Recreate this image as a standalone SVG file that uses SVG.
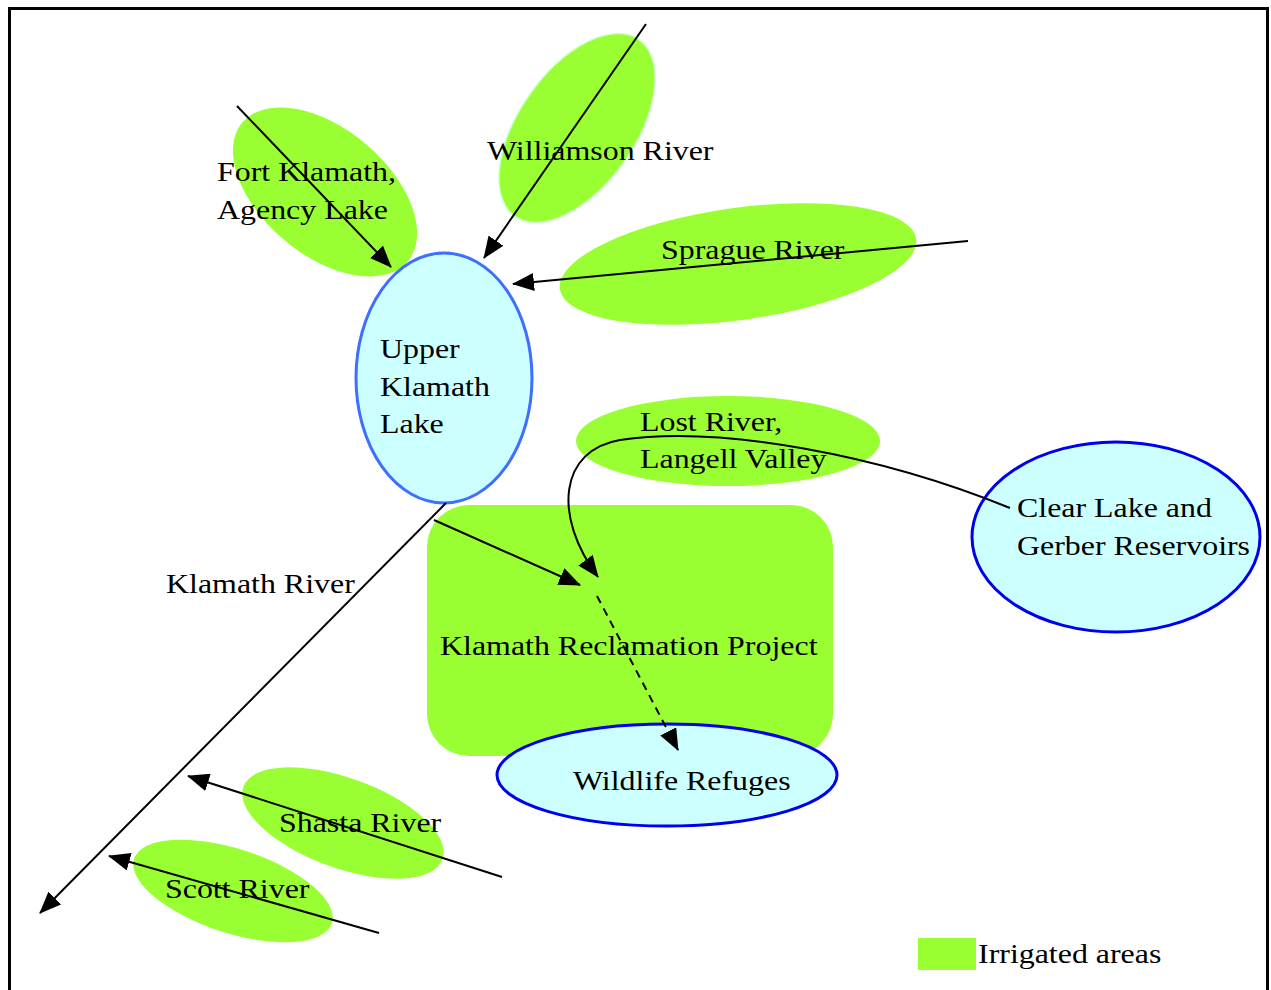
<svg xmlns="http://www.w3.org/2000/svg" width="1271" height="990" viewBox="0 0 1271 990">
  <defs>
    <marker id="ah" markerWidth="22" markerHeight="18" refX="21" refY="9" orient="auto" markerUnits="userSpaceOnUse">
      <path d="M0,0 L22,9 L0,18 Z" fill="#000"/>
    </marker>
    <style>
      .irr { fill: #99ff33; }
      .lake { fill: #ccffff; stroke: #0000ee; stroke-width: 3; }
      .lbl { font-family: "Liberation Serif", "Times New Roman", serif; font-size: 28px; fill: #000; }
      .con { fill: none; stroke: #000; stroke-width: 2; marker-end: url(#ah); }
    </style>
  </defs>
  <rect x="0" y="0" width="1271" height="990" fill="#fff"/>
  <rect id="frame" x="9.5" y="8.5" width="1258" height="1010" fill="none" stroke="#000" stroke-width="3"/>

  <g id="fort-klamath">
    <ellipse class="irr" cx="325" cy="192" rx="108" ry="63" transform="rotate(40 325 192)"/>
    <text class="lbl" transform="translate(217 181) scale(1.14 1)">Fort Klamath,</text>
    <text class="lbl" transform="translate(217 219) scale(1.14 1)">Agency Lake</text>
  </g>
  <g id="williamson">
    <ellipse class="irr" cx="577" cy="128" rx="108" ry="58" transform="rotate(-55 577 128)" stroke="#ccffcc" stroke-width="1.5"/>
    <text class="lbl" transform="translate(487 160) scale(1.14 1)">Williamson River</text>
  </g>
  <g id="sprague">
    <ellipse class="irr" cx="738" cy="264" rx="180" ry="56" transform="rotate(-8 738 264)"/>
    <text class="lbl" transform="translate(661 259) scale(1.14 1)">Sprague River</text>
  </g>
  <g id="upper-klamath-lake">
    <ellipse cx="444" cy="378" rx="88" ry="125" fill="#ccffff" stroke="#3f6fff" stroke-width="3"/>
    <text class="lbl" transform="translate(380 358) scale(1.14 1)">Upper</text>
    <text class="lbl" transform="translate(380 396) scale(1.14 1)">Klamath</text>
    <text class="lbl" transform="translate(380 433) scale(1.14 1)">Lake</text>
  </g>
  <g id="lost-river">
    <ellipse class="irr" cx="728" cy="441" rx="152" ry="45"/>
    <text class="lbl" transform="translate(640 431) scale(1.14 1)">Lost River,</text>
    <text class="lbl" transform="translate(640 468) scale(1.14 1)">Langell Valley</text>
  </g>
  <g id="klamath-reclamation-project">
    <rect class="irr" x="427" y="505" width="406" height="251" rx="42" ry="42"/>
    <text class="lbl" transform="translate(440 655) scale(1.14 1)">Klamath Reclamation Project</text>
  </g>
  <g id="wildlife-refuges">
    <ellipse class="lake" cx="667" cy="775" rx="170" ry="51"/>
    <text class="lbl" transform="translate(573 790) scale(1.14 1)">Wildlife Refuges</text>
  </g>
  <g id="clear-lake">
    <ellipse class="lake" cx="1116" cy="537" rx="144" ry="95"/>
    <text class="lbl" transform="translate(1017 517) scale(1.14 1)">Clear Lake and</text>
    <text class="lbl" transform="translate(1017 555) scale(1.14 1)">Gerber Reservoirs</text>
  </g>
  <g id="shasta">
    <ellipse class="irr" cx="343" cy="823" rx="106" ry="45" transform="rotate(20 343 823)"/>
    <text class="lbl" transform="translate(279 832) scale(1.14 1)">Shasta River</text>
  </g>
  <g id="scott">
    <ellipse class="irr" cx="233" cy="891" rx="104" ry="42" transform="rotate(18 233 891)"/>
    <text class="lbl" transform="translate(165 898) scale(1.14 1)">Scott River</text>
  </g>
  <g id="klamath-river-label">
    <text class="lbl" transform="translate(166 593) scale(1.14 1)">Klamath River</text>
  </g>
  <g id="legend">
    <rect class="irr" x="918" y="938" width="58" height="32"/>
    <text class="lbl" transform="translate(978 963) scale(1.14 1)">Irrigated areas</text>
  </g>

  <g id="connectors">
    <line class="con" x1="237" y1="106" x2="391" y2="267"/>
    <line class="con" x1="646" y1="24" x2="484" y2="258"/>
    <line class="con" x1="968" y1="241" x2="513" y2="284"/>
    <line class="con" x1="446" y1="503" x2="40" y2="913"/>
    <line class="con" x1="434" y1="520" x2="580" y2="585"/>
    <path class="con" d="M1010,508 C880,455 720,425 620,440 C560,450 552,515 598,577"/>
    <line class="con" x1="597" y1="596" x2="678" y2="750" stroke-dasharray="8,6"/>
    <line class="con" x1="502" y1="877" x2="188" y2="776"/>
    <line class="con" x1="379" y1="933" x2="109" y2="856"/>
  </g>
</svg>
